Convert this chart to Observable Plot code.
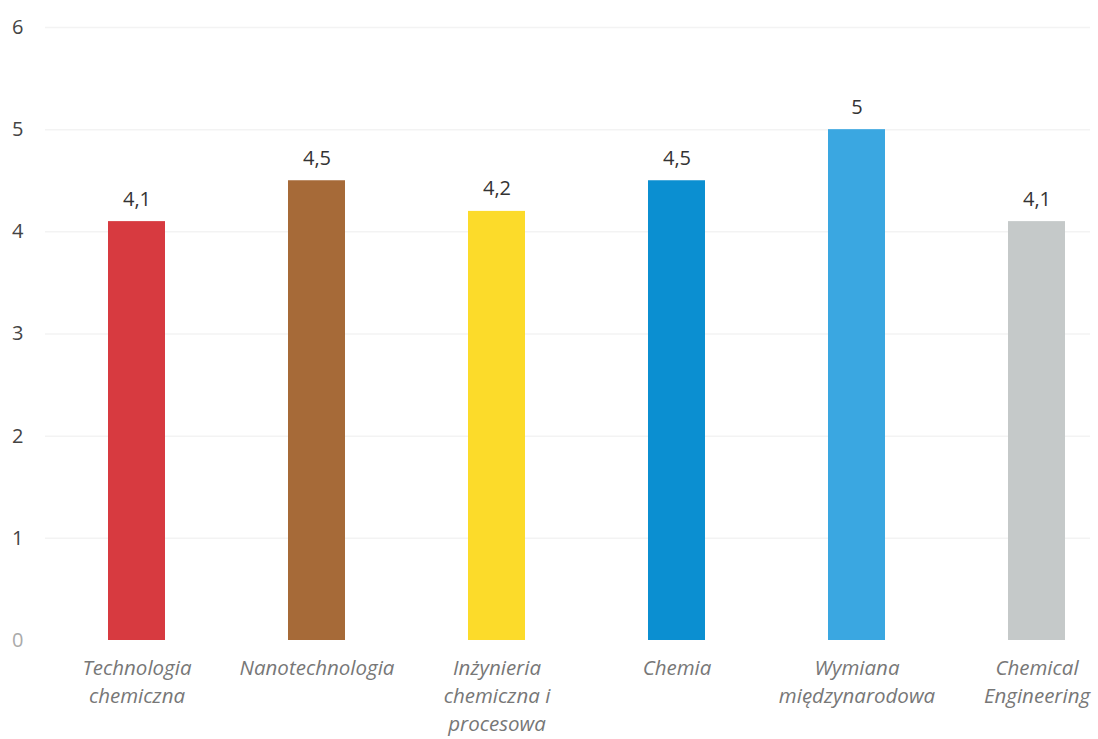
<!DOCTYPE html>
<html><head><meta charset="utf-8">
<script src="https://cdn.jsdelivr.net/npm/d3@7"></script>
<script src="https://cdn.jsdelivr.net/npm/@observablehq/plot@0.6"></script>
<style>body{margin:0;background:#fff}</style>
</head><body><div id="chart"></div>
<script>
const categories = ["Technologia\nchemiczna","Nanotechnologia","Inżynieria\nchemiczna i\nprocesowa","Chemia","Wymiana\nmiędzynarodowa","Chemical\nEngineering"];
const values = [4.1, 4.5, 4.2, 4.5, 5, 4.1];
const colors = ["#d73a40","#a66a38","#fcdb2a","#0b8fd1","#3aa7e1","#c5c9c9"];
const yTicks = [0,1,2,3,4,5,6];

const data = categories.map((c,i)=>({cat:c, value:values[i], color:colors[i]}));
const fmt = v => String(v).replace(".", ",");

const chart = Plot.plot({
  width: 1098, height: 739,
  marginTop: 27, marginBottom: 99, marginLeft: 45, marginRight: 8,
  style: {fontFamily: "'Open Sans', sans-serif", background: "#fff"},
  x: {domain: categories, range: [43.6, 1128.4], paddingInner: 0.685, paddingOuter: 0.3425, label: null},
  y: {domain: [0, 6], label: null},
  marks: [
    Plot.ruleY(yTicks.filter(d=>d>0), {stroke: "#f3f3f3", strokeWidth: 1.5}),
    Plot.barY(data, {x: "cat", y: "value", fill: "color"}),
    Plot.text(data, {x: "cat", y: "value", text: d => fmt(d.value), lineAnchor: "bottom", dy: -16, fontSize: 20, fill: "#333"}),
    Plot.axisY(yTicks, {tickSize: 0, tickPadding: 22, fontSize: 20, fill: d => d === 0 ? "#aaa" : "#444", tickFormat: d => String(d)}),
    Plot.axisX({tickSize: 0, tickPadding: 15, fontSize: 20.5, fontStyle: "italic", fill: "#777", lineHeight: 1.36})
  ]
});
document.getElementById("chart").appendChild(chart);
</script></body></html>
